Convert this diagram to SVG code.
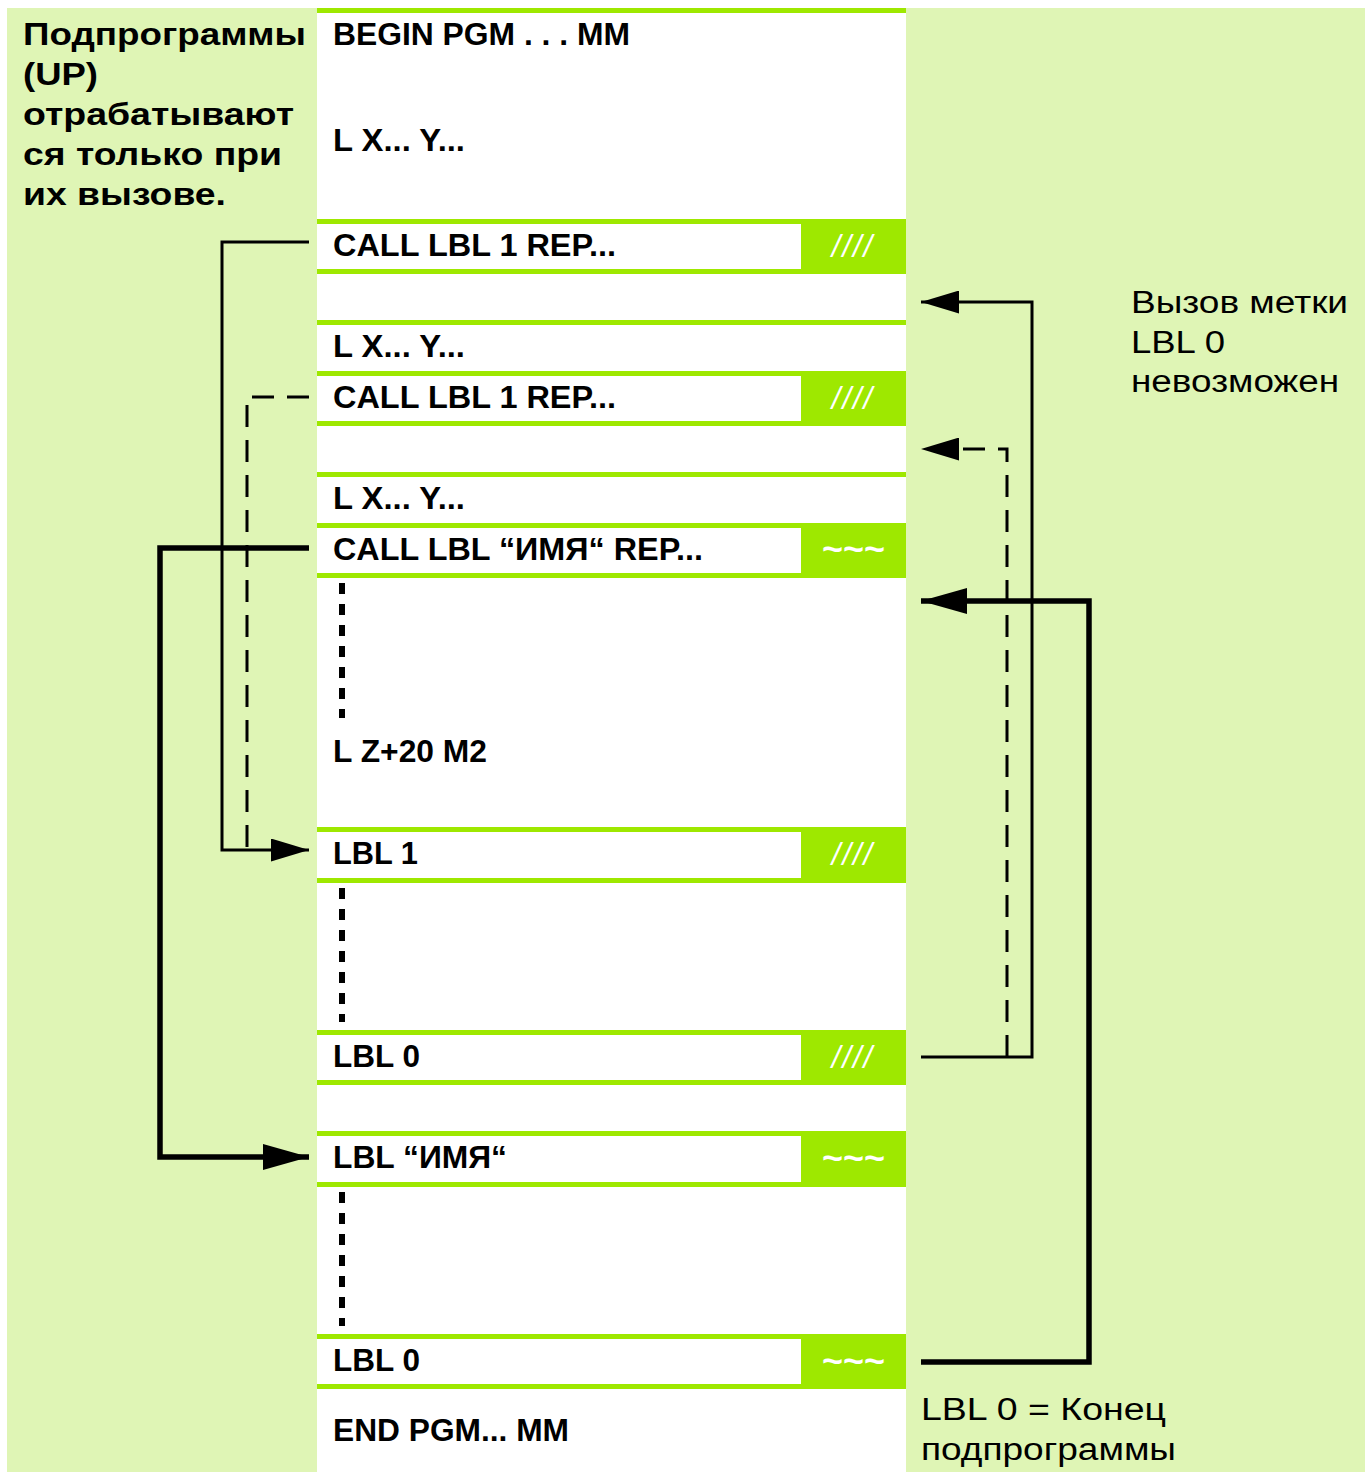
<svg xmlns="http://www.w3.org/2000/svg" width="1365" height="1472" viewBox="0 0 1365 1472">
<defs>
<style>
.bg{fill:#DFF5B5}
.col{fill:#FFFFFF}
.g{fill:#9EE800}
.w{fill:#FFFFFF}
.t{font-family:"Liberation Sans",Arial,sans-serif;font-weight:bold;font-size:31px;fill:#000}
.n{font-family:"Liberation Sans",Arial,sans-serif;font-size:31px;fill:#000}
.sl{font-family:"Liberation Sans",Arial,sans-serif;font-style:italic;font-size:31px;fill:#fff;letter-spacing:2px}
.tl{font-family:"Liberation Sans",Arial,sans-serif;font-weight:bold;font-size:34px;fill:#fff}
.thin{fill:none;stroke:#000;stroke-width:3}
.thick{fill:none;stroke:#000;stroke-width:5.5}
.dash{fill:none;stroke:#000;stroke-width:3;stroke-dasharray:22 13}
.dots{fill:none;stroke:#000;stroke-width:6;stroke-dasharray:11 10}
</style>
<marker id="ah" viewBox="0 0 38 23" refX="38" refY="11.5" markerWidth="38" markerHeight="23" markerUnits="userSpaceOnUse" orient="auto"><path d="M0,0 L38,11.5 L0,23 z" fill="#000"/></marker>
<marker id="ahb" viewBox="0 0 46 26" refX="46" refY="13" markerWidth="46" markerHeight="26" markerUnits="userSpaceOnUse" orient="auto"><path d="M0,0 L46,13 L0,26 z" fill="#000"/></marker>
</defs>
<rect x="0" y="0" width="1365" height="1472" fill="#fff"/>
<rect class="bg" x="7" y="8" width="1358" height="1464"/>
<rect class="col" x="317" y="8" width="589" height="1464"/>

<g id="intro">
<text class="t" x="23" y="45" textLength="283" lengthAdjust="spacingAndGlyphs">Подпрограммы</text>
<text class="t" x="23" y="85" textLength="75" lengthAdjust="spacingAndGlyphs">(UP)</text>
<text class="t" x="23" y="125" textLength="271" lengthAdjust="spacingAndGlyphs">отрабатывают</text>
<text class="t" x="23" y="165" textLength="259" lengthAdjust="spacingAndGlyphs">ся только при</text>
<text class="t" x="23" y="205" textLength="203" lengthAdjust="spacingAndGlyphs">их вызове.</text>
</g>

<g id="begin">
<rect class="g" x="317" y="8" width="589" height="5"/>
<text class="t" x="333" y="45" textLength="297" lengthAdjust="spacingAndGlyphs">BEGIN PGM . . . MM</text>
<text class="t" x="333" y="151" textLength="132" lengthAdjust="spacingAndGlyphs">L X... Y...</text>
</g>

<g id="call1">
<rect class="g" x="317" y="219" width="589" height="55"/>
<rect class="w" x="317" y="224" width="484" height="45"/>
<text class="t" x="333" y="256" textLength="283" lengthAdjust="spacingAndGlyphs">CALL LBL 1 REP...</text>
<text class="sl" x="853" y="257" text-anchor="middle">////</text>
</g>

<g id="lxy2">
<rect class="g" x="317" y="320" width="589" height="5"/>
<text class="t" x="333" y="357" textLength="132" lengthAdjust="spacingAndGlyphs">L X... Y...</text>
</g>

<g id="call1b">
<rect class="g" x="317" y="371" width="589" height="55"/>
<rect class="w" x="317" y="376" width="484" height="45"/>
<text class="t" x="333" y="408" textLength="283" lengthAdjust="spacingAndGlyphs">CALL LBL 1 REP...</text>
<text class="sl" x="853" y="409" text-anchor="middle">////</text>
</g>

<g id="lxy3">
<rect class="g" x="317" y="472" width="589" height="5"/>
<text class="t" x="333" y="509" textLength="132" lengthAdjust="spacingAndGlyphs">L X... Y...</text>
</g>

<g id="callname">
<rect class="g" x="317" y="523" width="589" height="55"/>
<rect class="w" x="317" y="528" width="484" height="45"/>
<text class="t" x="333" y="560" textLength="370" lengthAdjust="spacingAndGlyphs">CALL LBL “ИМЯ“ REP...</text>
<text class="tl" x="822" y="560" textLength="63" lengthAdjust="spacingAndGlyphs">~~~</text>
<path class="dots" d="M342,583 V718"/>
<text class="t" x="333" y="762" textLength="154" lengthAdjust="spacingAndGlyphs">L Z+20 M2</text>
</g>

<g id="lbl1">
<rect class="g" x="317" y="827" width="589" height="56"/>
<rect class="w" x="317" y="832" width="484" height="46"/>
<text class="t" x="333" y="864" textLength="85" lengthAdjust="spacingAndGlyphs">LBL 1</text>
<text class="sl" x="853" y="865" text-anchor="middle">////</text>
<path class="dots" d="M342,888 V1022"/>
</g>

<g id="lbl0a">
<rect class="g" x="317" y="1030" width="589" height="55"/>
<rect class="w" x="317" y="1035" width="484" height="45"/>
<text class="t" x="333" y="1067" textLength="87" lengthAdjust="spacingAndGlyphs">LBL 0</text>
<text class="sl" x="853" y="1068" text-anchor="middle">////</text>
</g>

<g id="lblname">
<rect class="g" x="317" y="1131" width="589" height="56"/>
<rect class="w" x="317" y="1136" width="484" height="46"/>
<text class="t" x="333" y="1168" textLength="174" lengthAdjust="spacingAndGlyphs">LBL “ИМЯ“</text>
<text class="tl" x="822" y="1169" textLength="63" lengthAdjust="spacingAndGlyphs">~~~</text>
<path class="dots" d="M342,1192 V1326"/>
</g>

<g id="lbl0b">
<rect class="g" x="317" y="1334" width="589" height="55"/>
<rect class="w" x="317" y="1339" width="484" height="45"/>
<text class="t" x="333" y="1371" textLength="87" lengthAdjust="spacingAndGlyphs">LBL 0</text>
<text class="tl" x="822" y="1372" textLength="63" lengthAdjust="spacingAndGlyphs">~~~</text>
</g>

<g id="end">
<text class="t" x="333" y="1441" textLength="236" lengthAdjust="spacingAndGlyphs">END PGM... MM</text>
</g>

<g id="note-lbl0">
<text class="n" x="1131" y="313" textLength="217" lengthAdjust="spacingAndGlyphs">Вызов метки</text>
<text class="n" x="1131" y="353" textLength="94" lengthAdjust="spacingAndGlyphs">LBL 0</text>
<text class="n" x="1131" y="392" textLength="208" lengthAdjust="spacingAndGlyphs">невозможен</text>
</g>

<g id="note-end">
<text class="n" x="921" y="1420" textLength="245" lengthAdjust="spacingAndGlyphs">LBL 0 = Конец</text>
<text class="n" x="921" y="1460" textLength="255" lengthAdjust="spacingAndGlyphs">подпрограммы</text>
</g>

<g id="connectors">
<path class="thin" d="M309,242 H222 V850 H309" marker-end="url(#ah)"/>
<path class="dash" d="M309,397 H247 V850"/>
<path class="thick" d="M309,548 H160 V1157 H309" marker-end="url(#ahb)"/>
<path class="thin" d="M921,1057 H1032 V302 H921" marker-end="url(#ah)"/>
<path class="dash" d="M1007,1057 V449 H921" marker-end="url(#ah)"/>
<path class="thick" d="M921,1362 H1089 V601 H921" marker-end="url(#ahb)"/>
</g>
</svg>
